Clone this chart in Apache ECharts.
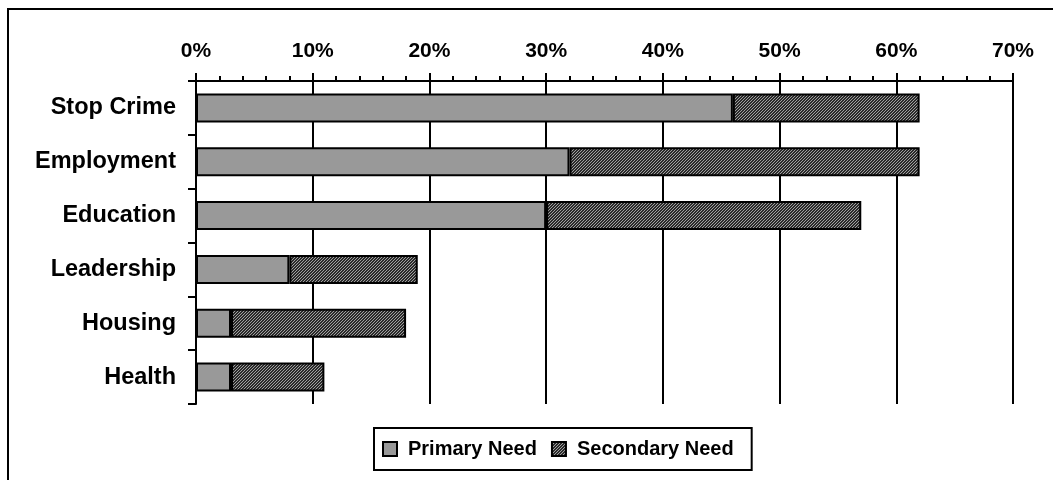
<!DOCTYPE html>
<html>
<head>
<meta charset="utf-8">
<script src="https://cdn.jsdelivr.net/npm/echarts@6/dist/echarts.min.js"></script>
<style>
  html, body { margin: 0; padding: 0; background: #fff; }
  #chart { width: 1053px; height: 480px; }
</style>
</head>
<body>
<div id="chart"></div>
<script>
// Needs ranked by share of respondents (percent)
const categories = ['Stop Crime', 'Employment', 'Education', 'Leadership', 'Housing', 'Health'];
const primaryNeed = [46, 32, 30, 8, 3, 3];
const secondaryNeed = [16, 30, 27, 11, 15, 8];
const seriesNames = ['Primary Need', 'Secondary Need'];

const FONT = 'Arial, "Liberation Sans", sans-serif';

// Fine diagonal hatching used for the secondary series
function makeHatch() {
  const c = document.createElement('canvas');
  c.width = 3; c.height = 3;
  const ctx = c.getContext('2d');
  ctx.fillStyle = '#2a2a2a';
  ctx.fillRect(0, 0, 3, 3);
  ctx.fillStyle = '#a0a0a0';
  for (let y = 0; y < 3; y++) {
    for (let x = 0; x < 3; x++) {
      if ((x + y) % 3 === 2) ctx.fillRect(x, y, 1, 1);
    }
  }
  return c;
}
const hatch = { image: makeHatch(), repeat: 'repeat' };

const chart = echarts.init(document.getElementById('chart'), null, { renderer: 'canvas' });

chart.setOption({
  animation: false,
  backgroundColor: '#fff',
  graphic: [{
    type: 'rect',
    shape: { x: 8, y: 9, width: 1200, height: 600 },
    style: { fill: 'none', stroke: '#000', lineWidth: 2 },
    silent: true
  }],
  grid: { left: 196, right: 40, top: 81, bottom: 76 },
  legend: {
    data: seriesNames,
    left: 374,
    top: 428,
    orient: 'horizontal',
    icon: 'rect',
    borderColor: '#000',
    borderWidth: 2,
    padding: [11, 18, 11, 8],
    itemWidth: 14,
    itemHeight: 14,
    itemGap: 14,
    selectedMode: false,
    textStyle: { fontFamily: FONT, fontWeight: 'bold', fontSize: 20, color: '#000', padding: [0, 0, 0, 6] }
  },
  xAxis: {
    type: 'value',
    position: 'top',
    min: 0,
    max: 70,
    interval: 10,
    axisLine: { show: true, lineStyle: { color: '#000', width: 2 } },
    axisTick: { show: true, inside: false, length: 8, lineStyle: { color: '#000', width: 2 } },
    minorTick: { show: true, splitNumber: 5, length: 5, lineStyle: { color: '#000', width: 2 } },
    splitLine: { show: true, lineStyle: { color: '#000', width: 2 } },
    axisLabel: {
      formatter: '{value}%',
      margin: 19,
      fontFamily: FONT, fontWeight: 'bold', fontSize: 21, color: '#000'
    }
  },
  yAxis: {
    type: 'category',
    inverse: true,
    data: categories,
    axisLine: { show: true, lineStyle: { color: '#000', width: 2 } },
    axisTick: { show: true, length: 8, interval: 0, alignWithLabel: false, lineStyle: { color: '#000', width: 2 } },
    axisLabel: {
      margin: 20,
      fontFamily: FONT, fontWeight: 'bold', fontSize: 23.5, color: '#000'
    }
  },
  series: [
    {
      name: seriesNames[0],
      type: 'bar',
      stack: 'need',
      barWidth: 29,
      data: primaryNeed,
      itemStyle: { color: '#999999', borderColor: '#000', borderWidth: 2 }
    },
    {
      name: seriesNames[1],
      type: 'bar',
      stack: 'need',
      barWidth: 29,
      data: secondaryNeed,
      itemStyle: { color: hatch, borderColor: '#000', borderWidth: 2 }
    }
  ]
});
</script>
</body>
</html>
